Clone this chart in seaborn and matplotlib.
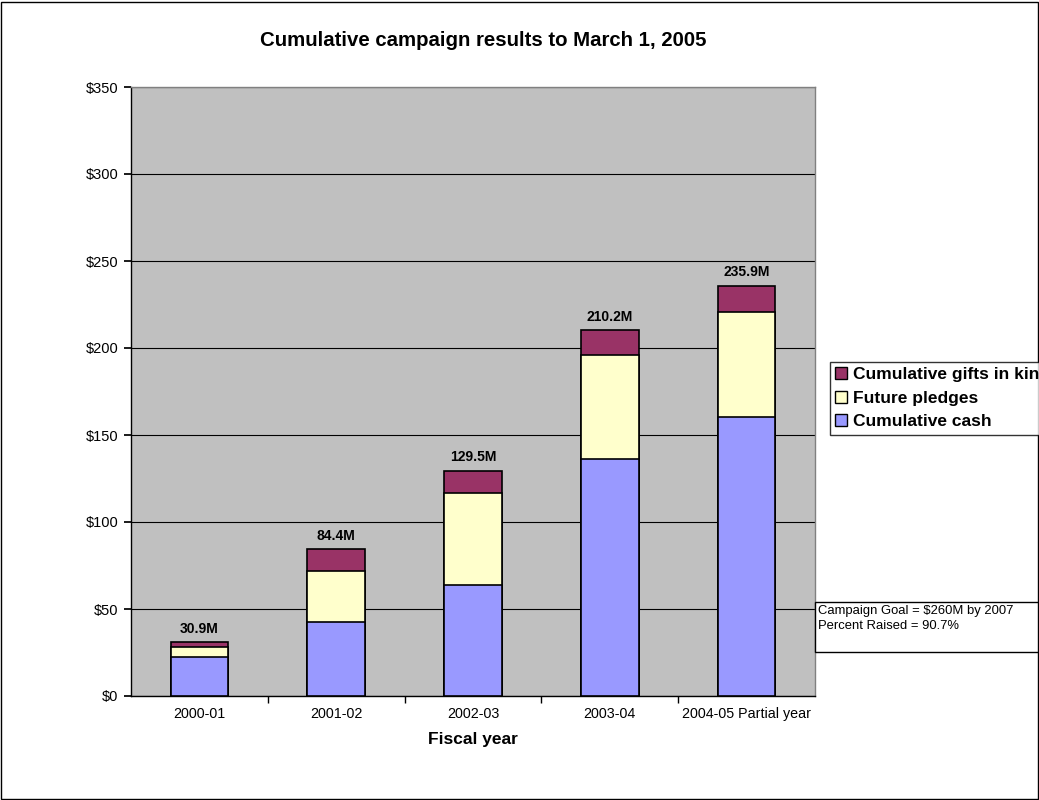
import numpy as np
import pandas as pd
import seaborn as sns
import matplotlib.pyplot as plt
from matplotlib.patches import Rectangle, Patch

# Data (in $M)
years = ["2000-01", "2001-02", "2002-03", "2003-04", "2004-05 Partial year"]
cash = [22.6, 42.5, 63.8, 136.4, 160.3]
pledges = [5.7, 29.2, 52.9, 59.4, 60.4]
gifts = [2.6, 12.7, 12.8, 14.4, 15.2]
totals = [30.9, 84.4, 129.5, 210.2, 235.9]

C_CASH = "#9999FF"
C_PLEDGE = "#FFFFCC"
C_GIFT = "#993366"

sns.set_theme(style="white")
plt.rcParams['font.family'] = ['Liberation Sans', 'DejaVu Sans']
plt.rcParams.update({"text.color": "black", "axes.labelcolor": "black",
                     "xtick.color": "black", "ytick.color": "black"})

df = pd.DataFrame({"year": years, "cash": cash, "pledges": pledges, "gifts": gifts})
df["cash_pledges"] = df["cash"] + df["pledges"]
df["total"] = df["cash_pledges"] + df["gifts"]

fig = plt.figure(figsize=(10.39, 8), dpi=100)
ax = fig.add_axes([0.1261, 0.13, 0.6583, 0.76125])
ax.set_facecolor("#C0C0C0")

# stacked bars drawn as overlapping cumulative bars
for col, c in [("total", C_GIFT), ("cash_pledges", C_PLEDGE), ("cash", C_CASH)]:
    sns.barplot(data=df, x="year", y=col, color=c, width=0.42, edgecolor="black",
                linewidth=1.2, saturation=1, ax=ax, zorder=3)

for i, t in enumerate(totals):
    ax.annotate(f"{t}M", (i, df["total"][i]), xytext=(0, 9.5), textcoords="offset points",
                ha="center", va="center", fontsize=10, fontweight="bold")

ax.set_ylim(0, 350)
ax.set_xlim(-0.5, len(years) - 0.5)
ax.set_yticks(np.arange(0, 351, 50))
ax.set_yticklabels([f"${v}" for v in range(0, 351, 50)], fontsize=10.5)
ax.yaxis.grid(True, color="black", linewidth=0.8, zorder=0)
ax.set_axisbelow(True)
ax.tick_params(axis="y", direction="out", length=5, left=True, pad=4, color="black")
ax.set_xticks(range(len(years)))
ax.set_xticklabels(years, fontsize=10.3)
ax.set_xticks(np.arange(0.5, len(years) - 0.5, 1), minor=True)
ax.tick_params(axis="x", which="major", length=0, pad=8)
ax.tick_params(axis="x", which="minor", direction="out", length=5, bottom=True, color="black")
ax.set_xlabel("Fiscal year", fontsize=12.5, fontweight="bold", labelpad=8)
ax.set_ylabel("")
for s in ["left", "bottom"]:
    ax.spines[s].set_color("black")
    ax.spines[s].set_linewidth(1)
for s in ["top", "right"]:
    ax.spines[s].set_color("#808080")
    ax.spines[s].set_linewidth(1)

fig.text(483 / 1039, 1 - 41 / 800, "Cumulative campaign results to March 1, 2005",
         ha="center", va="center", fontsize=14.7, fontweight="bold")

handles = [Patch(facecolor=C_GIFT, edgecolor="black", label="Cumulative gifts in kind"),
           Patch(facecolor=C_PLEDGE, edgecolor="black", label="Future pledges"),
           Patch(facecolor=C_CASH, edgecolor="black", label="Cumulative cash")]
leg = fig.legend(handles=handles, loc="upper left", bbox_to_anchor=(830 / 1039, 1 - 362 / 800),
                 frameon=True, fancybox=False, edgecolor="black", borderpad=0.3,
                 borderaxespad=0, handlelength=0.7, handleheight=0.7, handletextpad=0.35,
                 labelspacing=0.48, prop={"weight": "bold", "size": 12.5})
leg.get_frame().set_linewidth(1)

fig.patches.append(Rectangle((815 / 1039, 1 - 652 / 800), 0.3, 50 / 800, transform=fig.transFigure,
                             facecolor="white", edgecolor="black", linewidth=1))
fig.text(818 / 1039, 1 - 605 / 800, "Campaign Goal = $260M by 2007\nPercent Raised = 90.7%",
         fontsize=9.4, va="top", ha="left", linespacing=1.3)

fig.patches.append(Rectangle((0.001, 0.001), 0.998, 0.997, transform=fig.transFigure,
                             facecolor="none", edgecolor="black", linewidth=1))

fig.savefig("out.png", dpi=100)
